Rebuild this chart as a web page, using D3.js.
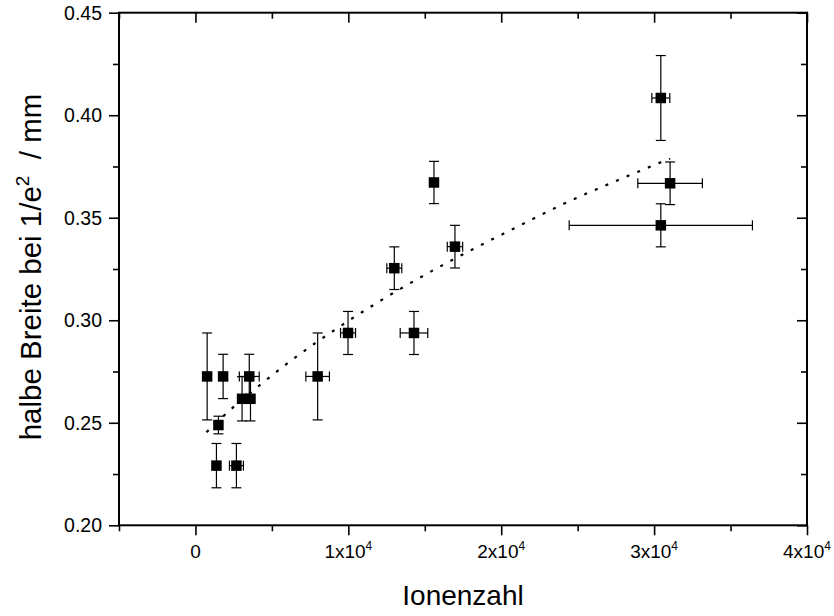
<!DOCTYPE html>
<html><head><meta charset="utf-8">
<script src="https://cdn.jsdelivr.net/npm/d3@7"></script>
<style>body{margin:0;background:#fff}svg{display:block}text{font-family:"Liberation Sans",Arial,sans-serif;fill:#000}</style>
</head><body><svg id="c" width="834" height="616"></svg>
<script>
// data: Ionenzahl (x), halbe Breite (y), errors
const ionCount = [765, 1810, 1503, 1373, 2680, 3520, 3050, 3600, 7993, 9980, 14294, 13007, 15601, 16974, 30438, 31046, 30438];
const ionErr   = [0, 0, 0, 0, 458, 650, 0, 0, 771, 490, 902, 490, 0, 503, 588, 2111, 5993];
const halfWidth = [0.2726, 0.2726, 0.2489, 0.2291, 0.2291, 0.2726, 0.2617, 0.2617, 0.2726, 0.2938, 0.2938, 0.3254, 0.3672, 0.3359, 0.4084, 0.3668, 0.3463];
const widthErr  = [0.0212, 0.0108, 0.0043, 0.0108, 0.0108, 0.0108, 0.0108, 0.0108, 0.0212, 0.0105, 0.0105, 0.0104, 0.0103, 0.0104, 0.0207, 0.0104, 0.0105];
// fit curve
const fitX = [719, 2222, 4248, 6340, 9739, 13399, 16667, 18627, 21242, 24118, 27627, 31046];
const fitY = [0.2454, 0.2559, 0.2686, 0.2808, 0.2984, 0.3153, 0.3289, 0.3365, 0.3463, 0.3569, 0.3683, 0.3789];
// ticks
const xMajor = [0, 10000, 20000, 30000, 40000];
const xLabels = ["0", "1x10|4", "2x10|4", "3x10|4", "4x10|4"];
const xMinor = [-5000, 5000, 15000, 25000, 35000];
const yMajor = [0.20, 0.25, 0.30, 0.35, 0.40, 0.45];
const yMinor = [0.225, 0.275, 0.325, 0.375, 0.425];

const svg = d3.select("#c");
const L = 119, R = 807, T = 12.7, B = 525.3;
const x = d3.scaleLinear().domain([-5000, 40000]).range([L, R]);
const y = d3.scaleLinear().domain([0.20, 0.45]).range([B, T]);

const pts = ionCount.map((v, i) => ({x: v, xe: ionErr[i], y: halfWidth[i], ye: widthErr[i]}));

// axes
function tickAxis(axisGen, transform, vals, size) {
  const g = svg.append("g").attr("transform", transform)
    .call(axisGen.tickValues(vals).tickSize(size).tickFormat(""));
  g.select(".domain").remove();
  g.selectAll(".tick line").attr("stroke", "#000").attr("stroke-width", 1.6);
  return g;
}
tickAxis(d3.axisBottom(x), `translate(0,${B})`, xMajor, 10);
tickAxis(d3.axisBottom(x), `translate(0,${B})`, xMinor, 6);
tickAxis(d3.axisTop(x), `translate(0,${T})`, xMajor, -10);
tickAxis(d3.axisTop(x), `translate(0,${T})`, xMinor, -6);
tickAxis(d3.axisLeft(y), `translate(${L},0)`, yMajor, 10);
tickAxis(d3.axisLeft(y), `translate(${L},0)`, yMinor, 6);
tickAxis(d3.axisRight(y), `translate(${R},0)`, yMajor, -10);
tickAxis(d3.axisRight(y), `translate(${R},0)`, yMinor, -6);

svg.append("rect").attr("x", L).attr("y", T).attr("width", R - L).attr("height", B - T)
  .attr("fill", "none").attr("stroke", "#000").attr("stroke-width", 2);

// y tick labels
svg.append("g").selectAll("text").data(yMajor).join("text")
  .attr("x", L - 17).attr("y", d => y(d)).attr("dy", "0.36em")
  .attr("text-anchor", "end").attr("font-size", 19.5)
  .text(d => d.toFixed(2));

// x tick labels
const xl = svg.append("g").selectAll("text").data(xMajor).join("text")
  .attr("x", d => x(d)).attr("y", 558).attr("text-anchor", "middle").attr("font-size", 19);
xl.each(function(d, i) {
  const parts = xLabels[i].split("|");
  const t = d3.select(this);
  t.append("tspan").text(parts[0]);
  if (parts[1]) t.append("tspan").attr("font-size", 12).attr("dy", -8).text(parts[1]);
});

// axis titles
svg.append("text").attr("x", (L + R) / 2).attr("y", 605).attr("text-anchor", "middle")
  .attr("font-size", 28).text("Ionenzahl");
const yt = svg.append("text").attr("transform", `translate(41,${(T + B) / 2 - 2}) rotate(-90)`)
  .attr("text-anchor", "middle").attr("font-size", 29.5);
yt.append("tspan").text("halbe Breite bei 1/e");
yt.append("tspan").attr("font-size", 19).attr("dy", -12).text("2");
yt.append("tspan").attr("dy", 12).text("\u00a0\u00a0/ mm");

// fit curve
const fit = fitX.map((v, i) => [v, fitY[i]]);
svg.append("path").datum(fit)
  .attr("d", d3.line().x(d => x(d[0])).y(d => y(d[1])).curve(d3.curveMonotoneX))
  .attr("fill", "none").attr("stroke", "#000").attr("stroke-width", 2.2)
  .attr("stroke-dasharray", "3,8.5");

// error bars
const eb = svg.append("g").attr("stroke", "#000").attr("stroke-width", 1.2);
const cap = 5;
pts.forEach(p => {
  const cx = x(p.x), cy = y(p.y);
  if (p.ye > 0) {
    const y1 = y(p.y + p.ye), y2 = y(p.y - p.ye);
    eb.append("line").attr("x1", cx).attr("x2", cx).attr("y1", y1).attr("y2", y2);
    eb.append("line").attr("x1", cx - cap).attr("x2", cx + cap).attr("y1", y1).attr("y2", y1);
    eb.append("line").attr("x1", cx - cap).attr("x2", cx + cap).attr("y1", y2).attr("y2", y2);
  }
  if (p.xe > 0) {
    const x1 = x(p.x - p.xe), x2 = x(p.x + p.xe);
    eb.append("line").attr("x1", x1).attr("x2", x2).attr("y1", cy).attr("y2", cy);
    eb.append("line").attr("x1", x1).attr("x2", x1).attr("y1", cy - cap).attr("y2", cy + cap);
    eb.append("line").attr("x1", x2).attr("x2", x2).attr("y1", cy - cap).attr("y2", cy + cap);
  }
});

// markers
const s = 10.5;
svg.append("g").selectAll("rect").data(pts).join("rect")
  .attr("x", d => x(d.x) - s / 2).attr("y", d => y(d.y) - s / 2)
  .attr("width", s).attr("height", s).attr("fill", "#000");
</script></body></html>
